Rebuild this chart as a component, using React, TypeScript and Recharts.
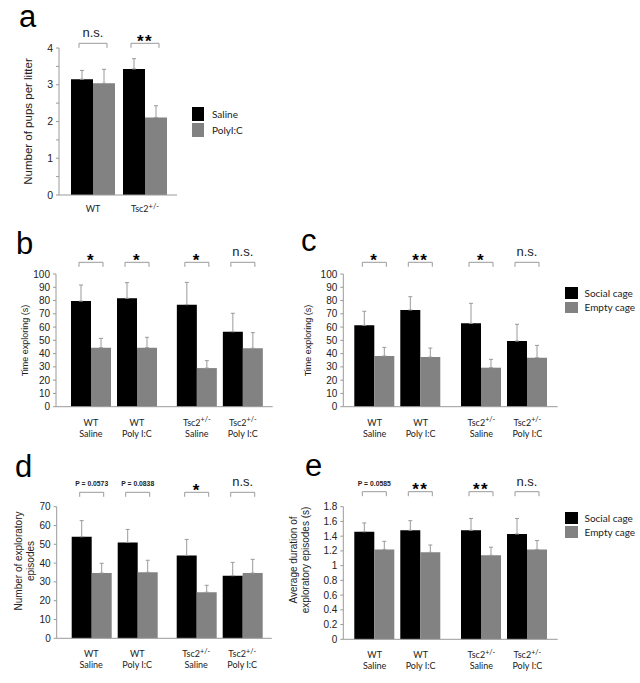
import React from 'react';
import { BarChart, Bar, XAxis, YAxis, ErrorBar } from 'recharts';

const BLACK = '#000000';
const GREY = '#828282';
const AXIS = '#9a9a9a';
const TEXT = '#222222';
const NUM_FONT = '"Liberation Sans", Arial, sans-serif';
const LABEL_FONT = 'Lato, "Open Sans", sans-serif';

// ---- panel a: litter size ----
const litterGenotypes = ['WT', 'Tsc2'];
const litterSup = ['', '+/-'];
const salinePups = [3.15, 3.43];
const salinePupsErr = [0.24, 0.28];
const polyPups = [3.04, 2.11];
const polyPupsErr = [0.38, 0.32];
const litterSig = ['n.s.', '**'];
const litterTicks = [0, 0.5, 1, 1.5, 2, 2.5, 3, 3.5, 4];

// ---- panels b-e ----
const genotypes = ['WT', 'Tsc2'];
const genotypeSup = ['', '+/-'];
const treatments = ['Saline', 'Poly I:C'];
// order of every array below: WT Saline, WT Poly I:C, Tsc2 Saline, Tsc2 Poly I:C

// b: time exploring, first test
const socialTimeB = [79.6, 81.7, 76.9, 56.5];
const socialTimeErrB = [12.1, 11.8, 16.8, 13.9];
const emptyTimeB = [44.5, 44.5, 29.1, 44.0];
const emptyTimeErrB = [7.0, 7.8, 5.6, 11.8];
const sigB = ['*', '*', '*', 'n.s.'];

// c: time exploring, second test
const socialTimeC = [61.3, 72.9, 62.8, 49.5];
const socialTimeErrC = [10.6, 10.0, 15.1, 12.6];
const emptyTimeC = [38.2, 37.4, 29.4, 36.9];
const emptyTimeErrC = [6.5, 6.8, 6.3, 9.3];
const sigC = ['*', '**', '*', 'n.s.'];

// d: number of exploratory episodes
const socialEpisodesD = [54.0, 51.0, 44.1, 33.3];
const socialEpisodesErrD = [8.6, 6.9, 8.5, 7.1];
const emptyEpisodesD = [34.7, 35.1, 24.5, 34.7];
const emptyEpisodesErrD = [5.2, 6.4, 3.7, 7.3];
const sigD = ['P = 0.0573', 'P = 0.0838', '*', 'n.s.'];

// e: average duration of episodes
const socialDurationE = [1.46, 1.48, 1.48, 1.43];
const socialDurationErrE = [0.12, 0.13, 0.16, 0.21];
const emptyDurationE = [1.22, 1.18, 1.14, 1.22];
const emptyDurationErrE = [0.11, 0.1, 0.11, 0.12];
const sigE = ['P = 0.0585', '**', '**', 'n.s.'];

const ticks100 = [0, 10, 20, 30, 40, 50, 60, 70, 80, 90, 100];
const ticks70 = [0, 10, 20, 30, 40, 50, 60, 70];
const ticks18 = [0, 0.2, 0.4, 0.6, 0.8, 1, 1.2, 1.4, 1.6, 1.8];

// ---- layout ----
const YW = 40;
const XH = 30;
const BAR = 20;
const SPACER = 6;

type Box = { left: number; top: number; width: number; height: number };
type Plot = { left: number; top: number; right: number; bottom: number };

const marginFor = (box: Box, plot: Plot) => ({
  left: plot.left - box.left - YW,
  top: plot.top - box.top,
  right: box.left + box.width - plot.right,
  bottom: box.top + box.height - plot.bottom - XH,
});

const litterTable = litterGenotypes.map((g, i) => ({
  genotype: g,
  saline: salinePups[i],
  poly: polyPups[i],
  salineErr: [0, salinePupsErr[i]],
  polyErr: [0, polyPupsErr[i]],
}));

const pairTable = (social: number[], socialErr: number[], empty: number[], emptyErr: number[]) =>
  genotypes.map((g, i) => ({
    genotype: g,
    socialSaline: social[i * 2],
    emptySaline: empty[i * 2],
    socialPoly: social[i * 2 + 1],
    emptyPoly: empty[i * 2 + 1],
    socialSalineErr: [0, socialErr[i * 2]],
    emptySalineErr: [0, emptyErr[i * 2]],
    socialPolyErr: [0, socialErr[i * 2 + 1]],
    emptyPolyErr: [0, emptyErr[i * 2 + 1]],
    spacer: 0,
  }));

// bracket + significance text drawn over a pair of adjacent bars
const makeBracket = (sig: string[], pair: number, stride: number, lineY: number, spread: number) => (props: any) => {
  const vb = props.viewBox ?? props;
  const i = props.index ?? 0;
  const label = sig[i * stride + pair];
  if (label == null || vb.x == null) return null;
  const x1 = vb.x + vb.width / 2 - spread;
  const x2 = vb.x + vb.width * 1.5 + spread;
  const star = label.includes('*');
  const small = label.startsWith('P');
  return (
    <g>
      <path d={`M${x1},${lineY + 4.5}V${lineY}H${x2}V${lineY + 4.5}`} fill="none" stroke={AXIS} strokeWidth={1} />
      <text
        x={(x1 + x2) / 2}
        y={star ? lineY + 3.5 : lineY - 6}
        textAnchor="middle"
        fontSize={star ? 17 : small ? 6.8 : 13}
        fontWeight={star || small ? 700 : 400}
        letterSpacing={star ? 1.5 : 0}
        fontFamily={NUM_FONT}
        fill={star ? '#000' : TEXT}
      >
        {label}
      </text>
    </g>
  );
};

const GenotypeText = ({ x, y, i, size }: any) => (
  <text x={x} y={y} textAnchor="middle" fontSize={size} fontFamily={LABEL_FONT} fill={TEXT}>
    {genotypes[i]}
    {genotypeSup[i] && (
      <tspan dy={-3.5} fontSize={size * 0.8}>
        {genotypeSup[i]}
      </tspan>
    )}
  </text>
);

const LitterTick = (props: any) => {
  const { x, y, payload } = props;
  const i = litterGenotypes.indexOf(payload.value);
  return (
    <text x={x} y={y + 17} textAnchor="middle" fontSize={9} fontFamily={LABEL_FONT} fill={TEXT}>
      {litterGenotypes[i]}
      {litterSup[i] && (
        <tspan dy={-3.5} fontSize={7.5}>
          {litterSup[i]}
        </tspan>
      )}
    </text>
  );
};

const PairTick = (props: any) => {
  const { x, y, payload } = props;
  const i = genotypes.indexOf(payload.value);
  const off = BAR + SPACER / 2;
  return (
    <g>
      {treatments.map((t, k) => {
        const cx = x + (k === 0 ? -off : off);
        return (
          <g key={t}>
            <GenotypeText x={cx} y={y + 19} i={i} size={9} />
            <text x={cx} y={y + 30} textAnchor="middle" fontSize={9} fontFamily={LABEL_FONT} fill={TEXT}>
              {t}
            </text>
          </g>
        );
      })}
    </g>
  );
};

const yAxisProps = {
  width: YW,
  tickSize: 3,
  tickMargin: 3,
  interval: 0 as const,
  axisLine: { stroke: AXIS },
  tickLine: { stroke: AXIS },
  tick: { fill: TEXT, fontSize: 10, fontFamily: NUM_FONT },
};

const errProps = { width: 2, stroke: AXIS, strokeWidth: 1, direction: 'y' as const, isAnimationActive: false };

const LitterPanel = () => {
  const box = { left: 0, top: 0, width: 320, height: 230 };
  const plot = { left: 59, top: 48, right: 177, bottom: 195 };
  return (
    <div style={{ position: 'absolute', left: box.left, top: box.top }}>
      <BarChart width={box.width} height={box.height} data={litterTable} margin={marginFor(box, plot)} barGap={0}>
        <XAxis
          dataKey="genotype"
          height={XH}
          padding={{ left: 8, right: 6 }}
          axisLine={{ stroke: AXIS }}
          tickLine={false}
          tickSize={0}
          tickMargin={0}
          interval={0}
          tick={<LitterTick />}
        />
        <YAxis
          {...yAxisProps}
          domain={[0, 4]}
          ticks={litterTicks}
          tickFormatter={(v: number) => (Number.isInteger(v) ? String(v) : '')}
          tick={{ fill: TEXT, fontSize: 10.5, fontFamily: NUM_FONT }}
        />
        <Bar
          dataKey="saline"
          fill={BLACK}
          barSize={22}
          isAnimationActive={false}
          label={makeBracket(litterSig, 0, 1, 43.3 - box.top, 3)}
        >
          <ErrorBar dataKey="salineErr" {...errProps} />
        </Bar>
        <Bar dataKey="poly" fill={GREY} barSize={22} isAnimationActive={false}>
          <ErrorBar dataKey="polyErr" {...errProps} />
        </Bar>
      </BarChart>
    </div>
  );
};

type PairPanelProps = {
  box: Box;
  plot: Plot;
  pad: number;
  data: any[];
  domain: [number, number];
  ticks: number[];
  sig: string[];
  bracketY: number;
};

const PairPanel = ({ box, plot, pad, data, domain, ticks, sig, bracketY }: PairPanelProps) => (
  <div style={{ position: 'absolute', left: box.left, top: box.top }}>
    <BarChart width={box.width} height={box.height} data={data} margin={marginFor(box, plot)} barGap={0}>
      <XAxis
        dataKey="genotype"
        height={XH}
        padding={{ left: pad, right: 0 }}
        axisLine={{ stroke: AXIS }}
        tickLine={false}
        tickSize={0}
        tickMargin={0}
        interval={0}
        tick={<PairTick />}
      />
      <YAxis {...yAxisProps} domain={domain} ticks={ticks} tickFormatter={(v: number) => String(v)} />
      <Bar
        dataKey="socialSaline"
        fill={BLACK}
        barSize={BAR}
        isAnimationActive={false}
        label={makeBracket(sig, 0, 2, bracketY - box.top, 2)}
      >
        <ErrorBar dataKey="socialSalineErr" {...errProps} />
      </Bar>
      <Bar dataKey="emptySaline" fill={GREY} barSize={BAR} isAnimationActive={false}>
        <ErrorBar dataKey="emptySalineErr" {...errProps} />
      </Bar>
      <Bar dataKey="spacer" fill="transparent" barSize={SPACER} isAnimationActive={false} />
      <Bar
        dataKey="socialPoly"
        fill={BLACK}
        barSize={BAR}
        isAnimationActive={false}
        label={makeBracket(sig, 1, 2, bracketY - box.top, 2)}
      >
        <ErrorBar dataKey="socialPolyErr" {...errProps} />
      </Bar>
      <Bar dataKey="emptyPoly" fill={GREY} barSize={BAR} isAnimationActive={false}>
        <ErrorBar dataKey="emptyPolyErr" {...errProps} />
      </Bar>
    </BarChart>
  </div>
);

const LegendBox = ({ left, top, labels, sqW, sqH, step, textLeft, size }: any) => (
  <div style={{ position: 'absolute', left: 0, top: 0 }}>
    {labels.map((l: string, k: number) => (
      <React.Fragment key={l}>
        <div
          style={{
            position: 'absolute',
            left,
            top: top + k * step,
            width: sqW,
            height: sqH,
            background: k === 0 ? BLACK : GREY,
          }}
        />
        <div
          style={{
            position: 'absolute',
            left: textLeft,
            top: top + k * step + sqH / 2 - 7,
            height: 14,
            lineHeight: '14px',
            fontSize: size,
            fontFamily: LABEL_FONT,
            color: TEXT,
            whiteSpace: 'nowrap',
          }}
        >
          {l}
        </div>
      </React.Fragment>
    ))}
  </div>
);

const panelLetters = ['a', 'b', 'c', 'd', 'e'];
const letterPos = [
  [19, 27],
  [16, 254],
  [301, 251],
  [15, 477],
  [305, 476],
];

const yLabels = [
  { x: 28, y: 121.5, lines: ['Number of pups per litter'], size: 11.5 },
  { x: 25, y: 340.5, lines: ['Time exploring (s)'], size: 9 },
  { x: 308, y: 340.5, lines: ['Time exploring (s)'], size: 9 },
  { x: 24, y: 561, lines: ['Number of exploratory', 'episodes'], size: 10 },
  { x: 299, y: 560, lines: ['Average duration of', 'exploratory episodes (s)'], size: 10 },
];

const Overlay = () => (
  <svg width={640} height={683} style={{ position: 'absolute', left: 0, top: 0, pointerEvents: 'none' }}>
    {panelLetters.map((l, i) => (
      <text key={l} x={letterPos[i][0]} y={letterPos[i][1]} fontSize={31} fontFamily={NUM_FONT} fill="#000">
        {l}
      </text>
    ))}
    {yLabels.map((lab, i) => (
      <g key={i} transform={`translate(${lab.x},${lab.y}) rotate(-90)`}>
        {lab.lines.map((line, k) => (
          <text
            key={line}
            x={0}
            y={(k - (lab.lines.length - 1) / 2) * 12}
            textAnchor="middle"
            dominantBaseline="central"
            fontSize={lab.size}
            fontFamily={NUM_FONT}
            fill={TEXT}
          >
            {line}
          </text>
        ))}
      </g>
    ))}
  </svg>
);

export default function App() {
  return (
    <div style={{ position: 'absolute', left: 0, top: 0, width: 640, height: 683, background: '#fff', overflow: 'hidden' }}>
      <LitterPanel />
      <PairPanel
        box={{ left: 0, top: 230, width: 300, height: 220 }}
        plot={{ left: 56, top: 274, right: 272.7, bottom: 406.7 }}
        pad={5}
        data={pairTable(socialTimeB, socialTimeErrB, emptyTimeB, emptyTimeErrB)}
        domain={[0, 100]}
        ticks={ticks100}
        sig={sigB}
        bracketY={262.3}
      />
      <PairPanel
        box={{ left: 300, top: 230, width: 340, height: 220 }}
        plot={{ left: 343.3, top: 274, right: 557.7, bottom: 406.7 }}
        pad={1}
        data={pairTable(socialTimeC, socialTimeErrC, emptyTimeC, emptyTimeErrC)}
        domain={[0, 100]}
        ticks={ticks100}
        sig={sigC}
        bracketY={262.3}
      />
      <PairPanel
        box={{ left: 0, top: 450, width: 300, height: 233 }}
        plot={{ left: 56.7, top: 506.7, right: 271.7, bottom: 638.3 }}
        pad={5}
        data={pairTable(socialEpisodesD, socialEpisodesErrD, emptyEpisodesD, emptyEpisodesErrD)}
        domain={[0, 70]}
        ticks={ticks70}
        sig={sigD}
        bracketY={492.3}
      />
      <PairPanel
        box={{ left: 300, top: 450, width: 340, height: 233 }}
        plot={{ left: 343.3, top: 506.7, right: 557.7, bottom: 639.3 }}
        pad={1}
        data={pairTable(socialDurationE, socialDurationErrE, emptyDurationE, emptyDurationErrE)}
        domain={[0, 1.8]}
        ticks={ticks18}
        sig={sigE}
        bracketY={491.7}
      />
      <LegendBox left={192} top={107} labels={['Saline', 'PolyI:C']} sqW={12} sqH={13.5} step={16} textLeft={212} size={10} />
      <LegendBox left={565} top={287.3} labels={['Social cage', 'Empty cage']} sqW={12.5} sqH={11.5} step={14.4} textLeft={584.5} size={10} />
      <LegendBox left={564.5} top={512.3} labels={['Social cage', 'Empty cage']} sqW={13.5} sqH={11.5} step={13.7} textLeft={584.5} size={10} />
      <Overlay />
    </div>
  );
}
